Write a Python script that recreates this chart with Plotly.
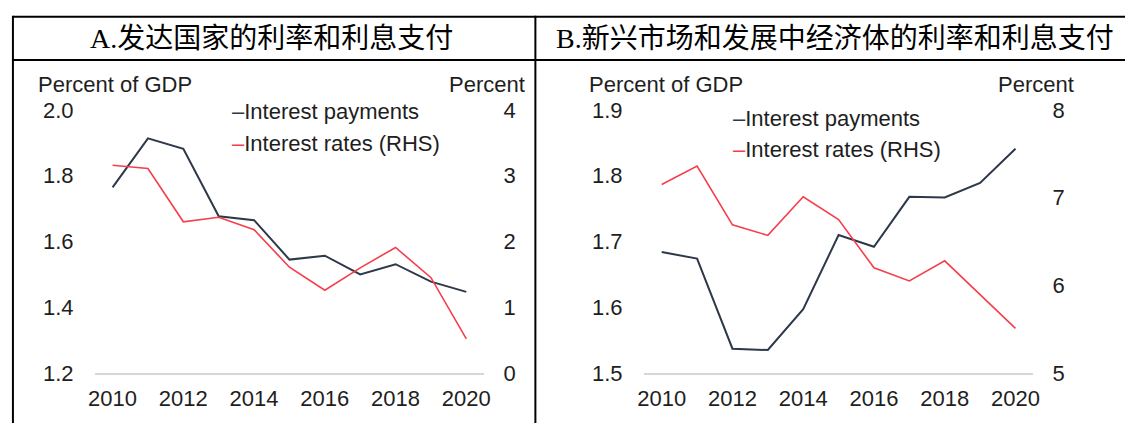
import plotly.graph_objects as go

# ---------------- data ----------------
years = [2010, 2011, 2012, 2013, 2014, 2015, 2016, 2017, 2018, 2019, 2020]

# Panel A: advanced economies
a_payments = [1.765, 1.914, 1.882, 1.677, 1.665, 1.545, 1.557, 1.500, 1.531, 1.478, 1.447]
a_rates = [3.16, 3.11, 2.30, 2.37, 2.18, 1.61, 1.26, 1.60, 1.91, 1.45, 0.52]

# Panel B: emerging market and developing economies
b_payments = [1.684, 1.674, 1.537, 1.535, 1.597, 1.710, 1.692, 1.768, 1.767, 1.789, 1.841]
b_rates = [7.15, 7.36, 6.69, 6.57, 7.01, 6.75, 6.20, 6.05, 6.28, 5.89, 5.51]

a_left_ticks = [1.2, 1.4, 1.6, 1.8, 2.0]
a_right_ticks = [0, 1, 2, 3, 4]
b_left_ticks = [1.5, 1.6, 1.7, 1.8, 1.9]
b_right_ticks = [5, 6, 7, 8]
x_ticks = [2010, 2012, 2014, 2016, 2018, 2020]

title_a = "A.发达国家的利率和利息支付"
title_b = "B.新兴市场和发展中经济体的利率和利息支付"
name_pay = "Interest payments"
name_rate = "Interest rates (RHS)"
left_title = "Percent of GDP"
right_title = "Percent"

# ---------------- styling ----------------
W, H = 1132, 436
DARK = "#2d3848"
RED = "#f43f4b"
TXT = "#1e1e1e"
SANS = "Arial, Liberation Sans, Helvetica, sans-serif"
SERIF = "Times New Roman, Liberation Serif, Noto Sans CJK SC, serif"
FS = 22


def px(x):
    return x / W


def py(y):
    return 1 - y / H


fig = go.Figure()

fig.add_trace(go.Scatter(x=years, y=a_payments, mode="lines", name=name_pay,
                         line=dict(color=DARK, width=2), xaxis="x", yaxis="y"))
fig.add_trace(go.Scatter(x=years, y=a_rates, mode="lines", name=name_rate,
                         line=dict(color=RED, width=1.6), xaxis="x", yaxis="y2"))
fig.add_trace(go.Scatter(x=years, y=b_payments, mode="lines", name=name_pay,
                         line=dict(color=DARK, width=2), xaxis="x2", yaxis="y3"))
fig.add_trace(go.Scatter(x=years, y=b_rates, mode="lines", name=name_rate,
                         line=dict(color=RED, width=1.6), xaxis="x2", yaxis="y4"))

ydom = [py(383), py(104)]
tickfont = dict(family=SANS, size=FS, color=TXT)

common_x = dict(range=[2009.5, 2020.5], tickvals=x_ticks, showgrid=False, zeroline=False,
                showline=True, linecolor="#d6d6d6", linewidth=2, ticks="outside",
                ticklen=5, tickcolor="rgba(0,0,0,0)", tickfont=tickfont, fixedrange=True)
common_y = dict(domain=ydom, showgrid=False, zeroline=False, showline=False,
                ticks="outside", tickcolor="rgba(0,0,0,0)",
                tickfont=tickfont, fixedrange=True)

fig.update_layout(
    width=W, height=H,
    margin=dict(l=0, r=0, t=0, b=0),
    paper_bgcolor="white", plot_bgcolor="white",
    showlegend=False,
    xaxis=dict(domain=[px(89), px(483)], anchor="y", **common_x),
    yaxis=dict(range=[1.2, 2.0], tickvals=a_left_ticks, tickformat=".1f", anchor="x",
               side="left", ticklen=16, **common_y),
    yaxis2=dict(range=[0, 4], tickvals=a_right_ticks, anchor="x", overlaying="y",
                side="right", ticklen=14, **common_y),
    xaxis2=dict(domain=[px(645), px(1039)], anchor="y3", **common_x),
    yaxis3=dict(range=[1.5, 1.9], tickvals=b_left_ticks, tickformat=".1f", anchor="x2",
                side="left", ticklen=16, **common_y),
    yaxis4=dict(range=[5, 8], tickvals=b_right_ticks, anchor="x2", overlaying="y3",
                side="right", ticklen=14, **common_y),
)

# table-like frame
frame = [
    (6, 5, W, 5), (6, 51, W, 51),
    (6, 4, 6, H), (535, 4, 535, H),
]
for x0, y0, x1, y1 in frame:
    fig.add_shape(type="line", xref="paper", yref="paper",
                  x0=px(x0), y0=py(y0), x1=px(x1), y1=py(y1),
                  line=dict(color="black", width=2))

ann = []
# panel titles
ann.append(dict(text=title_a, x=px(268), y=py(28), xanchor="center", yanchor="middle",
                font=dict(family=SERIF, size=28, color="black")))
ann.append(dict(text=title_b, x=px(838), y=py(28), xanchor="center", yanchor="middle",
                font=dict(family=SERIF, size=28, color="black")))

axfont = dict(family=SANS, size=FS, color=TXT)
# axis titles
for lx, rx in [(29, 527), (587, 1082)]:
    ann.append(dict(text=left_title, x=px(lx), y=py(77), xanchor="left", yanchor="middle", font=axfont))
    ann.append(dict(text=right_title, x=px(rx), y=py(77), xanchor="right", yanchor="middle", font=axfont))

# legends
for lx, y1, y2 in [(226, 106, 140), (733, 113, 146)]:
    ann.append(dict(text=f"<span style='color:{DARK}'>\u2013</span>{name_pay}", x=px(lx), y=py(y1),
                    xanchor="left", yanchor="middle", font=axfont))
    ann.append(dict(text=f"<span style='color:{RED}'>\u2013</span>{name_rate}", x=px(lx), y=py(y2),
                    xanchor="left", yanchor="middle", font=axfont))

for a in ann:
    a.update(xref="paper", yref="paper", showarrow=False)
    fig.add_annotation(**a)

fig.write_html(
    "out.html",
    config={"displayModeBar": False},
    post_script="document.body.style.margin='0';document.body.style.overflow='hidden';",
)
